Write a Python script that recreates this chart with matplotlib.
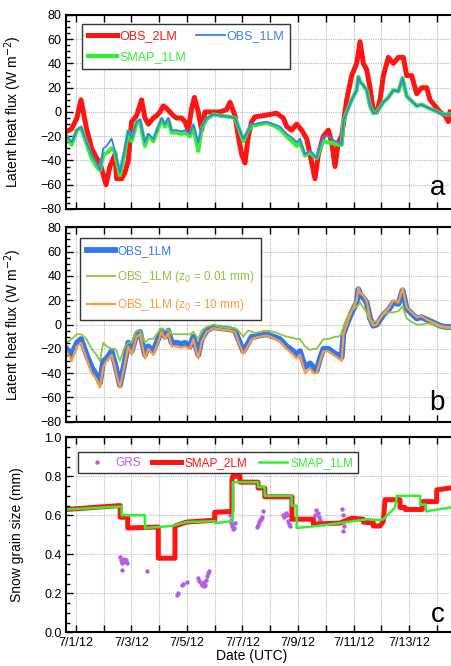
import numpy as np
import matplotlib.pyplot as plt
from matplotlib.ticker import MultipleLocator

plt.rcParams['font.family'] = ['Liberation Sans', 'DejaVu Sans']

# time in days since 7/1/12 00:00 UTC
# ---- panel a: latent heat flux (W m-2)
t_obs2 = [-0.33, -0.15, 0.04, 0.19, 0.39, 0.57, 0.75, 0.87, 1.09, 1.23, 1.41, 1.47, 1.65, 1.77,
          1.89, 2.01, 2.19, 2.37, 2.49, 2.61, 2.79, 2.91, 3.03, 3.15, 3.27, 3.39, 3.51, 3.63,
          3.81, 3.93, 4.05, 4.17, 4.27, 4.41, 4.53, 4.65, 4.95, 5.19, 5.43, 5.55, 5.73, 5.85,
          5.97, 6.09, 6.21, 6.33, 6.45, 6.75, 6.99, 7.23, 7.47, 7.59, 7.77, 7.95, 8.13, 8.31,
          8.43, 8.61, 8.73, 8.91, 9.09, 9.21, 9.33, 9.45, 9.57, 9.75, 9.93, 10.11, 10.23,
          10.35, 10.47, 10.59, 10.71, 10.83, 10.95, 11.07, 11.25, 11.43, 11.61, 11.79, 11.91,
          12.09, 12.27, 12.45, 12.63, 12.75, 12.93, 13.11, 13.29, 13.41, 13.47]
obs2 = [-16, -14, -5, 10, -14, -30, -38, -42, -60, -45, -35, -55, -55, -50,
        -40, -8, -3, 10, -5, -10, -5, -3, 0, 5, 3, 0, -3, -5,
        -5, -8, -15, 3, 12, 0, -15, 0, 0, 0, 2, 8, -3, -20,
        -35, -42, -20, -8, -4, -3, -2, -1, -5, -12, -15, -10, -15, -22,
        -35, -55, -35, -20, -15, -25, -45, -25, -20, 10, 30, 40, 58,
        40, 35, 20, 0, 0, 10, 30, 45, 40, 45, 45, 30,
        30, 15, 20, 20, 10, 5, 0, -3, -8, 0]

t_obs1 = [-0.33, -0.15, 0.04, 0.19, 0.39, 0.57, 0.75, 0.87, 0.99, 1.11, 1.29, 1.41, 1.47, 1.59,
          1.77, 1.89, 2.01, 2.19, 2.31, 2.49, 2.61, 2.79, 2.91, 3.09, 3.21, 3.33, 3.45, 3.63,
          3.81, 3.93, 4.11, 4.23, 4.41, 4.53, 4.71, 4.95, 5.19, 5.55, 5.73, 5.85, 6.03, 6.09,
          6.21, 6.33, 6.45, 6.63, 6.87, 7.11, 7.35, 7.59, 7.83, 7.95, 8.07, 8.25, 8.43, 8.55,
          8.67, 8.79, 8.91, 9.09, 9.33, 9.45, 9.57, 9.63, 9.75, 9.93, 10.11, 10.17, 10.23,
          10.35, 10.47, 10.59, 10.71, 10.83, 10.95, 11.07, 11.25, 11.43, 11.61, 11.76, 11.91,
          12.09, 12.27, 12.45, 12.63, 12.93, 13.11, 13.29, 13.47]
obs1 = [-20, -25, -15, -12, -25, -35, -42, -48, -30, -28, -22, -32, -38, -50,
        -30, -15, -22, -8, -6, -25, -18, -22, -15, -5, -10, -5, -15, -15,
        -16, -15, -18, -10, -25, -12, -5, -2, -3, -4, -5, -12, -22, -20,
        -15, -10, -10, -9, -8, -10, -12, -18, -22, -25, -22, -35, -32, -35,
        -38, -28, -20, -20, -24, -25, -27, -8, 0, 10, 18, 29, 25,
        22, 18, 5, -1, 0, 4, 8, 12, 18, 17, 28, 13,
        9, 5, 6, 4, 1, -1, -2, -2]

smap1_flux = [-20, -27, -15, -13, -26, -38, -45, -48, -35, -34, -30, -33, -40, -52,
              -32, -16, -24, -9, -7, -28, -19, -24, -17, -6, -12, -6, -17, -17,
              -18, -17, -20, -12, -32, -13, -6, -2, -3, -4, -5, -12, -24, -21,
              -15, -11, -11, -10, -9, -11, -14, -20, -25, -28, -25, -36, -33, -36,
              -38, -30, -24, -25, -26, -27, -27, -8, 0, 10, 18, 29, 25,
              22, 18, 5, -1, 0, 4, 8, 12, 18, 17, 28, 13,
              9, 5, 6, 4, 1, -1, -2, -2]

# ---- panel b: roughness length sensitivity (same times as OBS_1LM)
obs1_z001 = [-15, -12, -8, -8, -12, -20, -25, -30, -15, -18, -20, -20, -22, -30,
             -18, -15, -15, -5, -5, -15, -12, -12, -8, -3, -5, -4, -8, -8,
             -8, -8, -8, -6, -12, -5, -2, 0, -2, -3, -3, -5, -10, -8,
             -5, -6, -7, -6, -5, -6, -8, -10, -11, -12, -12, -18, -21, -20,
             -20, -16, -12, -12, -10, -10, -8, -2, 5, 12, 15, 16, 18,
             14, 10, 3, 2, 3, 5, 8, 10, 10, 11, 15, 5,
             2, 0, 0, 1, 0, -2, -3, -3]
obs1_z10 = [-22, -30, -18, -15, -28, -40, -45, -52, -35, -30, -25, -35, -42, -52,
            -32, -18, -25, -10, -8, -28, -20, -25, -18, -6, -12, -7, -18, -18,
            -19, -18, -20, -12, -28, -14, -6, -3, -4, -5, -6, -14, -24, -22,
            -17, -12, -11, -10, -9, -11, -14, -20, -25, -28, -25, -40, -36, -40,
            -40, -30, -22, -22, -26, -28, -30, -9, 0, 11, 20, 30, 26,
            24, 19, 5, -1, 0, 5, 9, 13, 20, 18, 30, 14,
            10, 6, 7, 4, 1, -1, -2, -2]

# ---- panel c: snow grain size (mm)
t_smap2 = [-0.33, 1.6, 1.6, 1.87, 1.87, 2.97, 2.97, 3.57, 3.57, 3.98, 5.0, 5.0, 5.62, 5.62,
           5.65, 5.91, 5.91, 6.56, 6.56, 6.8, 6.8, 7.78, 7.78, 8.55, 8.55, 9.5, 9.93, 10.35,
           10.35, 10.71, 10.71, 10.95, 11.07, 11.13, 11.67, 11.67, 11.85, 11.85, 12.47, 12.47,
           12.99, 12.99, 13.47]
smap2 = [0.63, 0.65, 0.59, 0.59, 0.535, 0.54, 0.38, 0.38, 0.545, 0.565, 0.575, 0.615, 0.62, 0.78,
         0.80, 0.80, 0.77, 0.77, 0.74, 0.74, 0.695, 0.695, 0.58, 0.58, 0.555, 0.56, 0.585, 0.58,
         0.565, 0.56, 0.545, 0.545, 0.57, 0.68, 0.68, 0.64, 0.64, 0.63, 0.63, 0.67,
         0.67, 0.73, 0.74]

t_smap1 = [-0.33, 1.65, 1.65, 2.49, 2.49, 3.45, 3.98, 5.0, 5.0, 5.65, 5.65, 6.56, 6.56, 6.8,
           6.8, 7.77, 7.77, 7.95, 7.95, 8.67, 9.5, 10.0, 10.5, 10.95, 11.07, 11.49, 11.55,
           12.39, 12.39, 12.6, 12.6, 13.47]
smap1 = [0.63, 0.645, 0.6, 0.6, 0.535, 0.545, 0.565, 0.57, 0.56, 0.57, 0.77, 0.77, 0.745, 0.745,
         0.70, 0.70, 0.65, 0.65, 0.535, 0.545, 0.56, 0.57, 0.58, 0.575, 0.58, 0.64, 0.70,
         0.70, 0.655, 0.655, 0.62, 0.64]

t_grs = [1.59, 1.62, 1.65, 1.68, 1.71, 1.74, 1.77, 1.80, 1.83, 1.65, 2.55,
         3.63, 3.69, 3.81, 3.87, 3.99,
         4.41, 4.45, 4.50, 4.55, 4.60, 4.62, 4.65, 4.70, 4.72, 4.76, 4.79,
         5.55, 5.58, 5.60, 5.63, 5.67, 5.70, 5.73,
         6.51, 6.55, 6.60, 6.63, 6.67, 6.70, 6.75,
         7.47, 7.50, 7.55, 7.60, 7.63, 7.67, 7.70,
         8.55, 8.60, 8.65, 8.70, 8.75, 8.80,
         9.57, 9.60, 9.63, 9.66, 9.60]
grs = [0.385, 0.37, 0.36, 0.355, 0.36, 0.375, 0.365, 0.37, 0.355, 0.32, 0.315,
       0.19, 0.20, 0.245, 0.25, 0.26,
       0.28, 0.265, 0.255, 0.245, 0.235, 0.26, 0.245, 0.27, 0.29, 0.305, 0.315,
       0.60, 0.575, 0.56, 0.545, 0.53, 0.535, 0.56,
       0.54, 0.55, 0.565, 0.575, 0.58, 0.59, 0.62,
       0.60, 0.59, 0.61, 0.60, 0.57, 0.555, 0.545,
       0.58, 0.60, 0.625, 0.61, 0.59, 0.575,
       0.63, 0.60, 0.57, 0.545, 0.52]

day_ticks = list(range(0, 14))
day_labels = ['7/1/12', '', '7/3/12', '', '7/5/12', '', '7/7/12', '', '7/9/12', '',
              '7/11/12', '', '7/13/12', '']

RED = '#ff1414'
BLUE = '#3a7ff2'
GREEN = '#33ee33'
OLIVE = '#8cc63c'
ORANGE = '#ff9a3c'
PURPLE = '#b45fe0'


def style_axes(ax, ymin, ymax, major, minor):
    ax.set_xlim(-0.34, 13.54)
    ax.set_ylim(ymin, ymax)
    ax.set_xticks(day_ticks)
    ax.yaxis.set_major_locator(MultipleLocator(major))
    ax.yaxis.set_minor_locator(MultipleLocator(minor))
    ax.tick_params(which='both', direction='in', top=True, right=False, labelsize=9)
    ax.tick_params(which='major', length=5, width=1)
    ax.tick_params(which='minor', length=3, width=1)
    ax.grid(True, which='major', color='#bbbbbb', linestyle=(0, (1, 1)), linewidth=0.8)
    ax.set_axisbelow(True)
    for s in ['left', 'bottom', 'top']:
        ax.spines[s].set_linewidth(1.5)
    ax.spines['right'].set_visible(False)


def color_legend(leg, colors):
    leg.get_frame().set_edgecolor('#333333')
    leg.get_frame().set_linewidth(1.0)
    for txt, c in zip(leg.get_texts(), colors):
        txt.set_color(c)


fig = plt.figure(figsize=(4.52, 6.66), dpi=100)
L, W = 0.1467, 0.8533
ax1 = fig.add_axes([L, 0.6862, W, 0.2913])
ax2 = fig.add_axes([L, 0.3668, W, 0.2919])
ax3 = fig.add_axes([L, 0.0506, W, 0.2928])

# panel a
l_red, = ax1.plot(t_obs2, obs2, color=RED, lw=3.6, label='OBS_2LM')
l_grn, = ax1.plot(t_obs1, smap1_flux, color=GREEN, lw=3.0, label='SMAP_1LM')
l_blu, = ax1.plot(t_obs1, obs1, color=BLUE, lw=1.3, label='OBS_1LM')
style_axes(ax1, -80, 80, 20, 5)
ax1.set_xticklabels([])
ax1.set_ylabel('Latent heat flux (W m$^{-2}$)', fontsize=10)
ax1.yaxis.set_label_coords(-0.11, 0.5)
leg = ax1.legend([l_red, l_grn, l_blu], ['OBS_2LM', 'SMAP_1LM', 'OBS_1LM'], ncol=2,
                 loc='upper left', bbox_to_anchor=(0.025, 0.985), fontsize=9, fancybox=False,
                 framealpha=1, handlelength=2.3, columnspacing=0.8, handletextpad=0.15,
                 borderpad=0.5, labelspacing=0.7)
color_legend(leg, [RED, GREEN, BLUE])
ax1.text(0.962, 0.072, 'a', transform=ax1.transAxes, fontsize=20, ha='center', va='baseline')

# panel b
ax2.plot(t_obs1, obs1, color='#2f78f0', lw=4.2, label='OBS_1LM')
ax2.plot(t_obs1, obs1_z001, color=OLIVE, lw=1.3, label='OBS_1LM (z$_0$ = 0.01 mm)')
ax2.plot(t_obs1, obs1_z10, color=ORANGE, lw=1.6, label='OBS_1LM (z$_0$ = 10 mm)')
style_axes(ax2, -80, 80, 20, 5)
ax2.set_xticklabels([])
ax2.set_ylabel('Latent heat flux (W m$^{-2}$)', fontsize=10)
ax2.yaxis.set_label_coords(-0.11, 0.5)
leg = ax2.legend(loc='upper left', bbox_to_anchor=(0.02, 0.975), fontsize=8.5, fancybox=False,
                 framealpha=1, handlelength=2.4, handletextpad=0.15, borderpad=0.6,
                 labelspacing=1.0)
color_legend(leg, ['#2f78f0', OLIVE, ORANGE])
ax2.text(0.962, 0.06, 'b', transform=ax2.transAxes, fontsize=20, ha='center', va='baseline')

# panel c
ax3.plot(t_grs, grs, 'o', color=PURPLE, ms=3.2, mec='none', label='GRS')
ax3.plot(t_smap2, smap2, color=RED, lw=3.6, label='SMAP_2LM')
ax3.plot(t_smap1, smap1, color=GREEN, lw=1.8, label='SMAP_1LM')
style_axes(ax3, 0.0, 1.0, 0.2, 0.05)
ax3.yaxis.set_major_formatter(plt.FormatStrFormatter('%.1f'))
ax3.set_xticklabels(day_labels)
ax3.set_ylabel('Snow grain size (mm)', fontsize=10)
ax3.yaxis.set_label_coords(-0.11, 0.5)
ax3.set_xlabel('Date (UTC)', fontsize=10)
ax3.xaxis.set_label_coords(0.48, -0.085)
leg = ax3.legend(ncol=3, loc='upper left', bbox_to_anchor=(0.016, 0.955), fontsize=8.5,
                 fancybox=False, framealpha=1, handlelength=2.4, handletextpad=0.3,
                 columnspacing=1.0, borderpad=0.4)
color_legend(leg, [PURPLE, RED, GREEN])
ax3.text(0.962, 0.053, 'c', transform=ax3.transAxes, fontsize=20, ha='center', va='baseline')

plt.savefig('out.png', dpi=100)
